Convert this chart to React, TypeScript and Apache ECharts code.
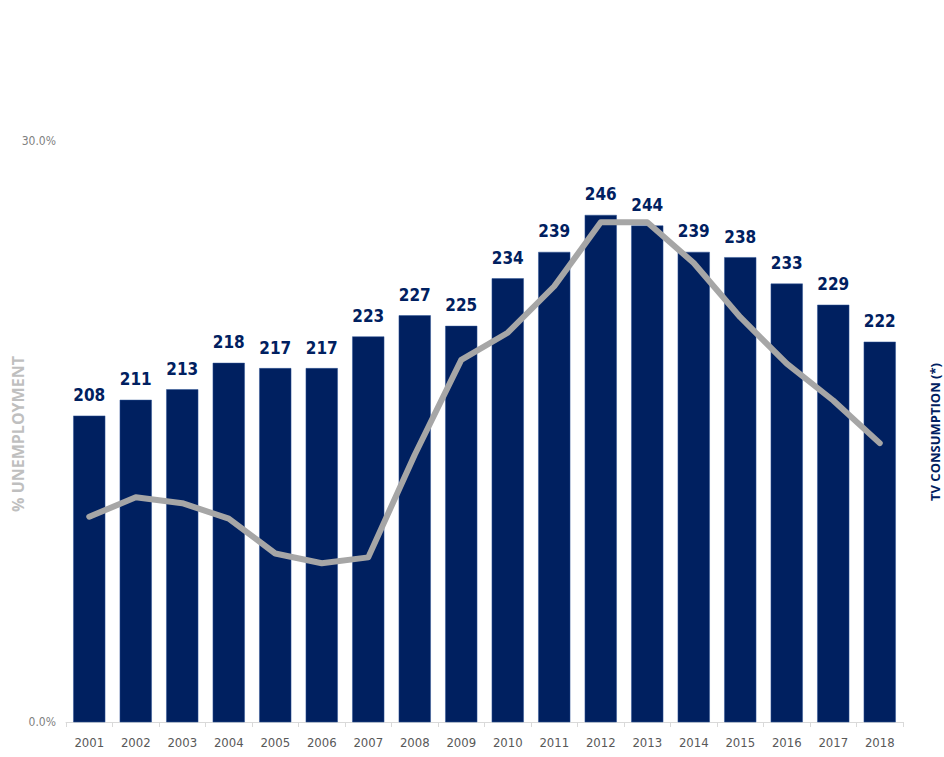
import React, { useEffect, useRef } from "react";
import * as echarts from "echarts";

const years = ["2001","2002","2003","2004","2005","2006","2007","2008","2009","2010","2011","2012","2013","2014","2015","2016","2017","2018"];
const tvConsumption = [208,211,213,218,217,217,223,227,225,234,239,246,244,239,238,233,229,222];
const unemployment = [10.6,11.6,11.3,10.5,8.7,8.2,8.5,13.8,18.7,20.1,22.5,25.8,25.8,23.7,20.9,18.5,16.6,14.4];
const leftTitle = "% UNEMPLOYMENT";
const rightTitle = "TV CONSUMPTION (*)";

const narrow = "'Liberation Sans Narrow', 'DejaVu Sans Condensed', 'Liberation Sans', sans-serif";

export default function App() {
  const ref = useRef<HTMLDivElement>(null);
  useEffect(() => {
    document.body.style.margin = "0";
    const chart = echarts.init(ref.current!, null, { renderer: "svg" });
    chart.setOption({
      animation: false,
      backgroundColor: "#ffffff",
      grid: { left: 66, right: 41, top: 141, bottom: 35 },
      xAxis: {
        type: "category",
        data: years,
        boundaryGap: true,
        axisLine: { show: true, lineStyle: { color: "#d9d9d9", width: 1 } },
        axisTick: { show: true, alignWithLabel: false, length: 5, lineStyle: { color: "#d9d9d9" } },
        axisLabel: { color: "#595959", fontSize: 13, fontFamily: narrow, margin: 14 },
      },
      yAxis: [
        {
          type: "value",
          min: 0,
          max: 30,
          interval: 30,
          position: "left",
          axisLine: { show: false },
          axisTick: { show: false },
          splitLine: { show: false },
          axisLabel: {
            color: "#7f7f7f",
            fontSize: 12,
            fontFamily: narrow,
            margin: 10,
            formatter: (v: number) => v.toFixed(1) + "%",
          },
        },
        {
          type: "value",
          min: 150,
          max: 260,
          position: "right",
          show: false,
          splitLine: { show: false },
        },
      ],
      series: [
        {
          type: "bar",
          yAxisIndex: 1,
          data: tvConsumption,
          barCategoryGap: "31%",
          itemStyle: { color: "#002060", borderColor: "#2f5597", borderWidth: 0.5 },
          label: {
            show: true,
            position: "top",
            distance: 12,
            color: "#002060",
            fontWeight: "bold",
            fontSize: 17,
            fontFamily: narrow,
          },
          z: 2,
        },
        {
          type: "line",
          yAxisIndex: 0,
          data: unemployment,
          symbol: "none",
          lineStyle: { color: "#a6a6a6", width: 6, cap: "round", join: "round" },
          z: 3,
        },
      ],
      graphic: [
        {
          type: "text",
          x: 18,
          y: 434,
          rotation: Math.PI / 2,
          style: {
            text: leftTitle,
            fill: "#bfbfbf",
            font: "bold 16px 'Open Sans', 'Liberation Sans', sans-serif",
            textAlign: "center",
            textVerticalAlign: "middle",
          },
        },
        {
          type: "text",
          x: 935,
          y: 432,
          rotation: Math.PI / 2,
          style: {
            text: rightTitle,
            fill: "#002060",
            font: "bold 13px 'Open Sans', 'Liberation Sans', sans-serif",
            textAlign: "center",
            textVerticalAlign: "middle",
          },
        },
      ],
    });
    return () => chart.dispose();
  }, []);
  return <div ref={ref} style={{ width: 944, height: 757 }} />;
}
